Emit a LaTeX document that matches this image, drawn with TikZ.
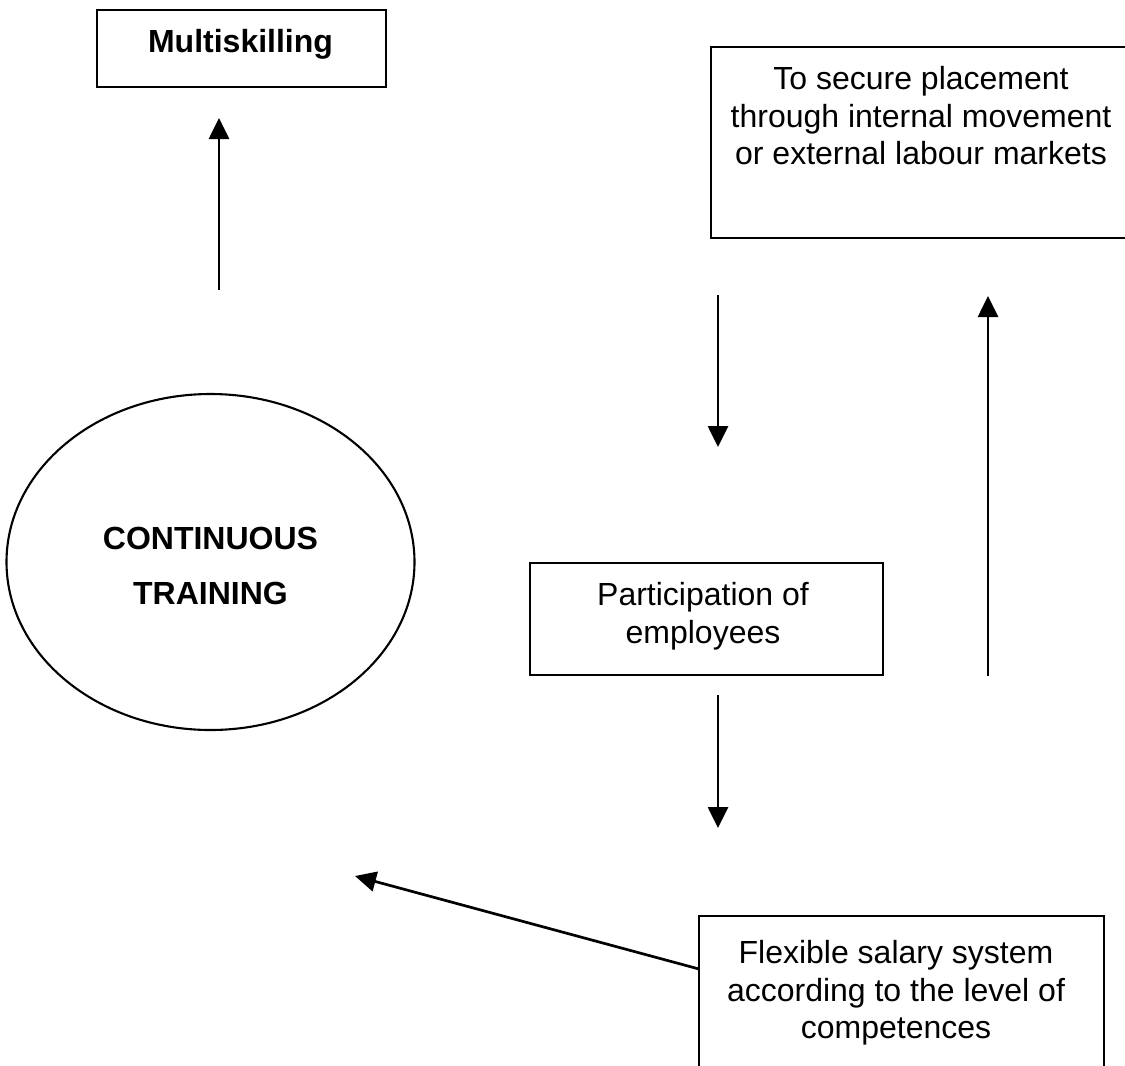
\documentclass[tikz,border=0pt]{standalone}
\usepackage{fontspec}
\setmainfont{Liberation Sans}
\usetikzlibrary{arrows.meta,shapes.geometric}
\begin{document}
\begin{tikzpicture}[x=0.5pt,y=-0.5pt,
  box/.style={draw, line width=1.4pt, rectangle, inner sep=0pt, outer sep=0pt},
  txt/.style={font=\fontsize{16}{18.8}\selectfont, align=center, inner sep=0pt, anchor=north},
  btxt/.style={txt, font=\fontsize{16}{18.8}\selectfont\bfseries},
  arr/.style={line width=1.35pt, -{Triangle[length=10.5pt,width=10pt]}}]
\useasboundingbox (0,0) rectangle (1125,1066);
\clip (0,0) rectangle (1125,1066);
% boxes and their texts
\node[box, minimum width=144.5pt, minimum height=38.5pt] (multi) at (241.5,48.5) {};
\node[btxt] (multit) at (240.5,29) {Multiskilling};
\node[box, minimum width=214.5pt, minimum height=95.5pt] (place) at (925.5,142.5) {};
\node[txt] (placet) at (921,66) {To secure placement\\through internal movement\\or external labour markets};
\node[draw, ellipse, line width=1.05pt, minimum width=204pt, minimum height=168pt, inner sep=0pt, outer sep=0pt] (ct) at (210.5,562) {};
\node[btxt] (ctt) at (210.5,527) {CONTINUOUS\\[8.7pt]TRAINING};
\node[box, minimum width=176.5pt, minimum height=56pt] (part) at (706.5,619) {};
\node[txt] (partt) at (703,582) {Participation of\\employees};
\node[box, minimum width=202.5pt, minimum height=92pt] (flex) at (901.5,1008) {};
\node[txt] (flext) at (896,940) {Flexible salary system\\according to the level of\\competences};
% arrow end points
\coordinate (a1s) at (219,290); \coordinate (a1e) at (219,118);
\coordinate (a2s) at (718,295); \coordinate (a2e) at (718,447);
\coordinate (a3s) at (988,676); \coordinate (a3e) at (988,296);
\coordinate (a4s) at (718,695); \coordinate (a4e) at (718,828);
\coordinate (a5s) at (699,969); \coordinate (a5e) at (355,876);
\draw[arr] (a1s) -- (a1e);
\draw[arr] (a2s) -- (a2e);
\draw[arr] (a3s) -- (a3e);
\draw[arr] (a4s) -- (a4e);
\draw[arr] (a5s) -- (a5e);
\end{tikzpicture}
\end{document}
